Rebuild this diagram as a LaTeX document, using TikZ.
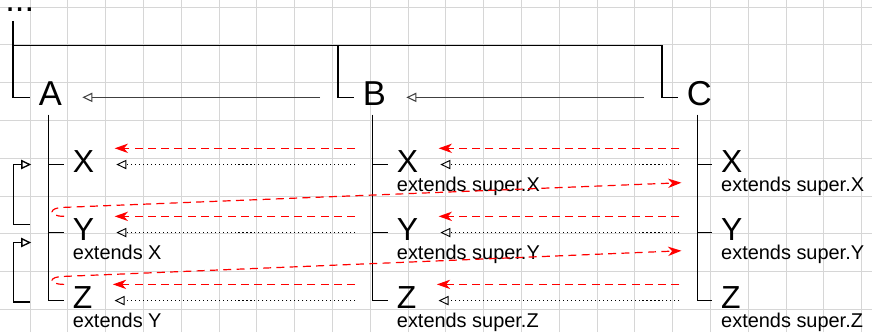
\documentclass[tikz,border=0pt]{standalone}
\usepackage{fontspec}
\setmainfont{Liberation Sans}
\definecolor{gridgray}{RGB}{214,214,214}
\definecolor{linkred}{RGB}{255,0,0}
\usepackage{tikz}
\usetikzlibrary{arrows.meta,positioning,calc}

\begin{document}
\begin{tikzpicture}[
  cls/.style={font=\fontsize{26}{30}\selectfont,inner xsep=6.5pt,inner ysep=0pt,text height=19.5pt,text depth=6.5pt,anchor=base west},
  member/.style={font=\fontsize{24}{28}\selectfont,inner xsep=6.5pt,inner ysep=0pt,text height=14pt,text depth=2pt,anchor=base west},
  ext/.style={font=\fontsize{15}{18}\selectfont,inner sep=0pt,anchor=base west},
  tree/.style={line width=1.2pt},
  opentip/.style={-{Triangle[open,length=7.5pt,width=7pt]}},
  inh/.style={opentip,line width=0.8pt,black!75,shorten <=25.5pt,shorten >=8.7pt},
  ovr/.style={opentip,line width=0.7pt,dash pattern=on 0.8pt off 2.2pt,shorten <=24.75pt,shorten >=10pt},
  superlink/.style={linkred,line width=0.9pt,dash pattern=on 6pt off 4pt,-{Stealth[length=10pt,width=7pt,inset=3pt]}},
  bracket/.style={opentip,line width=1pt}
]
\useasboundingbox (-0.794,-8.598) rectangle (22.275,0.185);
\fill[white] (-0.794,-8.598) rectangle (22.275,0.185);
\draw[gridgray,line width=0.6pt] (-0.794,-8.598) grid (22.275,0.185);

% classes
\node[cls,inner xsep=0pt,text height=3pt] (root) at (-0.66,-0.132) {...};
\node[cls] (A) at (0,-2.619) {A};
\node[cls] (B) at (8.571,-2.619) {B};
\node[cls] (C) at (17.143,-2.619) {C};
\coordinate (top) at (-0.448,-1.02);

% members
\foreach \p/\x in {A/0.9,B/9.471,C/18.05} {
  \node[member] (\p X) at (\x,-4.378) {X};
  \node[member] (\p Y) at (\x,-6.178) {Y};
  \node[member] (\p Z) at (\x,-7.978) {Z};
}
\node[ext] (AYext) at ([xshift=6.5pt,yshift=-14pt]AY.base west) {extends X};
\node[ext] (AZext) at ([xshift=6.5pt,yshift=-14pt]AZ.base west) {extends Y};
\foreach \p in {B,C} {
  \foreach \m in {X,Y,Z} {
    \node[ext] (\p\m ext) at ([xshift=6.5pt,yshift=-14pt]\p\m.base west) {extends super.\m};
  }
}

% tree
\draw[tree] ([xshift=6pt]root.south west) |- (A.west);
\draw[tree] (top) -| ([xshift=-0.43cm]C.west) -- (C.west);
\draw[tree] (top) -| ([xshift=-0.43cm]B.west) -- (B.west);
\foreach \p in {A,B,C} {
  \foreach \m in {X,Y,Z} {
    \draw[tree] ([xshift=-1.5pt]\p.south) |- (\p\m.west);
  }
}

% overrides
\draw[inh] (B.west) -- (A.east);
\draw[inh] (C.west) -- (B.east);
\foreach \m in {X,Y,Z} {
  \draw[ovr] (B\m.west) -- (A\m.east);
  \draw[ovr] (C\m.west) -- (B\m.east);
  \draw[superlink,shorten <=24.75pt,shorten >=8.7pt] ([yshift=4pt]B\m.north west) -- ([yshift=4pt]A\m.north east);
  \draw[superlink,shorten <=24.75pt,shorten >=8.7pt] ([yshift=4pt]C\m.north west) -- ([yshift=4pt]B\m.north east);
}
\draw[superlink] ([yshift=4pt]AY.north west) .. controls +(-12pt,0) and +(-12pt,0) .. ([yshift=10.75pt]AY.north west) -- ([xshift=-23.25pt,yshift=-13.7pt]CX.west);
\draw[superlink] ([yshift=4pt]AZ.north west) .. controls +(-12pt,0) and +(-12pt,0) .. ([yshift=10pt]AZ.north west) -- ([xshift=-23.25pt,yshift=-13.7pt]CY.west);

% extends
\draw[bracket] ([xshift=-25.5pt,yshift=6pt]AY.west) -- ++(-12.75pt,0) |- ([xshift=-24.75pt]AX.west);
\draw[bracket] ([xshift=-25.5pt,yshift=-1pt]AZ.west) -- ++(-12.75pt,0) |- ([xshift=-24.75pt,yshift=-7.5pt]AY.west);
\end{tikzpicture}
\end{document}
